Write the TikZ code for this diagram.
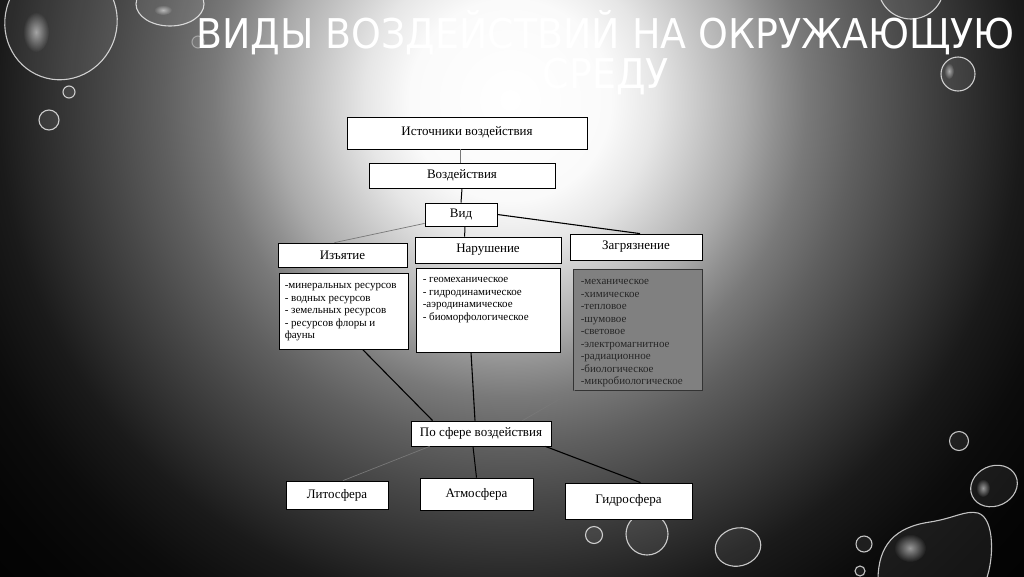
\documentclass[tikz,border=0pt]{standalone}
\usepackage{fontspec}
\setmainfont{Liberation Serif}
\newfontfamily\titlefont{DejaVu Sans}
\usetikzlibrary{calc,fadings}
\definecolor{g0}{RGB}{255,255,255}
\definecolor{g1}{RGB}{250,250,250}
\definecolor{g1b}{RGB}{230,230,230}
\definecolor{g2}{RGB}{200,200,200}
\definecolor{g3}{RGB}{170,170,170}
\definecolor{g3b}{RGB}{144,144,144}
\definecolor{g4}{RGB}{121,121,121}
\definecolor{g4b}{RGB}{95,95,95}
\definecolor{g5}{RGB}{72,72,72}
\definecolor{g6}{RGB}{48,48,48}
\definecolor{g7}{RGB}{26,26,26}
\definecolor{g7b}{RGB}{12,12,12}
\definecolor{g8}{RGB}{5,5,5}
\definecolor{g9}{RGB}{3,3,3}
\definecolor{listgray}{RGB}{128,128,128}
\definecolor{thin}{RGB}{120,120,120}
\pgfdeclareradialshading{bgshade}{\pgfpoint{0bp}{0bp}}{color(0bp)=(g0); color(3.6bp)=(g1); color(5.2bp)=(g1b); color(6.8bp)=(g2); color(8.4bp)=(g3); color(9.5bp)=(g3b); color(10.6bp)=(g4); color(12.4bp)=(g4b); color(14.3bp)=(g5); color(16.4bp)=(g6); color(18.3bp)=(g7); color(20.7bp)=(g7b); color(23.2bp)=(g8); color(25bp)=(g9); color(50bp)=(g9)}
\tikzfading[name=softdot, inner color=transparent!0, outer color=transparent!100]
\tikzset{
  box/.style={draw=black, line width=0.8pt, fill=white, inner sep=0pt, font=\fontsize{13}{15}\selectfont},
  listtext/.style={align=left, anchor=north west, inner sep=0pt, font=\fontsize{11}{12.5}\selectfont},
  thinline/.style={draw=thin, line width=0.7pt},
  thickline/.style={draw=black, line width=1.3pt},
  bubble/.style={draw=white, draw opacity=0.75, line width=1.1pt, fill=white, fill opacity=0.07},
  hl/.style={fill=white, fill opacity=0.55, path fading=softdot},
  titletext/.style={text=white, font=\titlefont\fontsize{41}{41}\selectfont, inner sep=0pt}
}
\begin{document}
\begin{tikzpicture}[x=1pt,y=-1pt]
\useasboundingbox (0,0) rectangle (1024,576);
\begin{scope}
\clip (0,0) rectangle (1024,576);
\shade[shading=bgshade] (510-700,100-700) rectangle (510+700,100+700);
% bubbles
\draw[bubble, rotate around={-20:(61,22)}] (61,22) ellipse (56 and 58);
\fill[hl] (36,32) ellipse (13 and 20);
\draw[bubble] (170,4) ellipse (34 and 22);
\fill[hl] (163,10) ellipse (9 and 5);
\draw[bubble] (69,92) circle (6);
\draw[bubble] (49,120) circle (10);
\draw[bubble, draw opacity=0.35] (198,42) circle (6);
\draw[bubble] (911,-14) circle (33);
\draw[bubble] (958,74) circle (17);
\fill[hl] (949,71) ellipse (5 and 8);
\draw[bubble] (959,441) circle (9.5);
\draw[bubble, rotate around={25:(994,486)}] (994,486) ellipse (24 and 20);
\fill[hl] (983,488) ellipse (7 and 9);
\draw[bubble] (878,580) .. controls (878,545) and (895,527) .. (930,522) .. controls (955,518) and (965,510) .. (978,513) .. controls (995,518) and (994,560) .. (986,580);
\fill[hl] (910,548) ellipse (16 and 14);
\draw[bubble] (864,544) circle (8);
\draw[bubble] (860,571) circle (5);
\draw[bubble] (594,535) circle (8.5);
\draw[bubble] (647,534) circle (21);
\draw[bubble, rotate around={15:(738,547)}] (738,547) ellipse (23 and 19);
\end{scope}
% title
\node[titletext, anchor=base, xscale=0.925] (t1) at (605.5,48) {ВИДЫ ВОЗДЕЙСТВИЙ НА ОКРУЖАЮЩУЮ};
\node[titletext, anchor=base, xscale=0.925] (t2) at (606,88) {СРЕДУ};
% boxes
\node[box, minimum width=240pt, minimum height=32pt] (src) at (467,133) {\raisebox{3pt}{Источники воздействия}};
\node[box, minimum width=186pt, minimum height=25pt] (vozd) at (462,175.5) {Воздействия};
\node[box, minimum width=72pt, minimum height=23pt] (vid) at (461,214.5) {\raisebox{1pt}{Вид}};
\node[box, minimum width=129pt, minimum height=24pt] (izy) at (342.5,255) {Изъятие};
\node[box, minimum width=146pt, minimum height=26pt] (nar) at (488,250) {\raisebox{1pt}{Нарушение}};
\node[box, minimum width=132pt, minimum height=26pt] (zag) at (636,247) {\raisebox{1pt}{Загрязнение}};
\node[box, minimum width=129pt, minimum height=76pt] (l1) at (343.5,311) {};
\node[box, minimum width=144pt, minimum height=84pt] (l2) at (488,310) {};
\node[box, fill=listgray, draw=black!80, minimum width=129pt, minimum height=121pt] (l3) at (637.5,329.5) {};
\node[listtext] (l1t) at ($(l1.north west)+(6,11)$) {-минеральных ресурсов\\ - водных ресурсов\\ - земельных ресурсов\\ - ресурсов флоры и\\ фауны};
\node[listtext] (l2t) at ($(l2.north west)+(7,10)$) {- геомеханическое\\ - гидродинамическое\\ -аэродинамическое\\ - биоморфологическое};
\node[listtext, text=black!85] (l3t) at ($(l3.north west)+(8,11)$) {-механическое\\ -химическое\\ -тепловое\\ -шумовое\\ -световое\\ -электромагнитное\\ -радиационное\\ -биологическое\\ -микробиологическое};
\node[box, minimum width=140pt, minimum height=25pt] (sfera) at (481,433.5) {По сфере воздействия};
\node[box, minimum width=102pt, minimum height=28pt] (lito) at (337,495) {\raisebox{2pt}{Литосфера}};
\node[box, minimum width=113pt, minimum height=32pt] (atmo) at (476.5,494) {\raisebox{3pt}{Атмосфера}};
\node[box, minimum width=127pt, minimum height=36pt] (gidro) at (628.5,501) {\raisebox{4pt}{Гидросфера}};
% connectors
\draw[thinline] (src.south) ++(-7,0) coordinate (c1) -- (c1 |- vozd.north);
\draw[thickline, line width=1pt] (vozd.south) -- (vid.north);
\draw[thinline] ($(vid.south west)+(0,-3)$) -- ($(izy.north)+(-8,0)$);
\draw[thickline, line width=1pt] ($(vid.south)+(4,0)$) -- ($(nar.north west)+(50,0)$);
\draw[thickline, line width=1.1pt] (vid.east) -- ($(zag.north)+(4,0)$);
\draw[thickline, line width=1.1pt] ($(l1.south)+(19,0)$) -- ($(sfera.north west)+(22,0)$);
\draw[thickline, line width=1.1pt] ($(l2.south)+(-17,0)$) -- ($(sfera.north)+(-6,0)$);
\draw[thinline] ($(l3.south west)+(2,0)$) -- ($(sfera.north east)+(-29,0)$);
\draw[thinline] ($(sfera.south west)+(19,0)$) -- ($(lito.north)+(6,0)$);
\draw[thickline, line width=1pt] ($(sfera.south)+(-8,0)$) -- ($(atmo.north)+(0,0)$);
\draw[thickline, line width=1.1pt] ($(sfera.south east)+(-6,0)$) -- ($(gidro.north)+(12,0)$);
\end{tikzpicture}
\end{document}
